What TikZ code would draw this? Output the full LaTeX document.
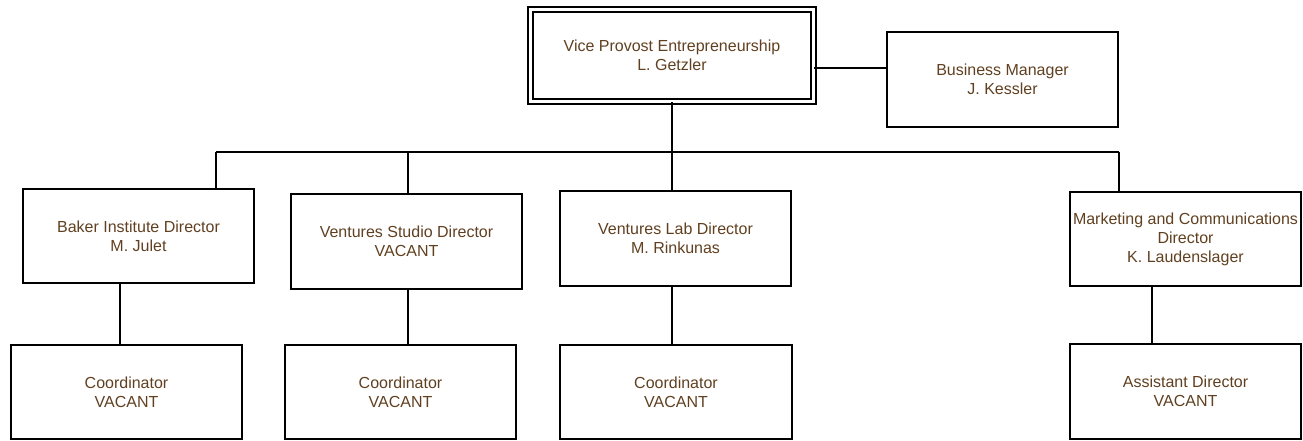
\documentclass[tikz,border=0pt]{standalone}
\usepackage{fontspec}
\setmainfont{Liberation Sans}
\usepackage{tikz}
\usetikzlibrary{calc}
\definecolor{nametext}{RGB}{96,64,32}
\tikzset{
  post/.style={draw, line width=1.4pt, minimum width=173.5pt, minimum height=71pt,
    align=center, text=nametext, font=\fontsize{12pt}{14.2pt}\selectfont, inner sep=0pt},
  chief/.style={post, double, line width=1.1pt, double distance=2.6pt,
    minimum width=212pt, minimum height=69pt},
  link/.style={line width=1.4pt}
}

\begin{document}
\begin{tikzpicture}[x=0.75pt, y=-0.75pt]
                \useasboundingbox (0,0) rectangle (1303,441);

                \node[chief] (vp) at (672,55.5) {Vice Provost Entrepreneurship\\L. Getzler};
                \node[post] (bm) at (1002.5,79.5) {Business Manager\\J. Kessler};

                \node[post] (baker) at (138.5,236) {Baker Institute Director\\M. Julet};
                \node[post] (studio) at (406.5,241.5) {Ventures Studio Director\\VACANT};
                \node[post] (lab) at (675.5,238.5) {Ventures Lab Director\\M. Rinkunas};
                \node[post] (mkt) at (1185.5,239) {Marketing and Communications\\Director\\K. Laudenslager};

                \node[post] (coord1) at (126.5,392) {Coordinator\\VACANT};
                \node[post] (coord2) at (400.5,392) {Coordinator\\VACANT};
                \node[post] (coord3) at (676,392) {Coordinator\\VACANT};
                \node[post] (asst) at (1185.5,391.5) {Assistant Director\\VACANT};

                \coordinate (staff) at (0,68);
                \coordinate (busL) at (216,152);
                \coordinate (busR) at (1119,152);
                \coordinate (dropA) at (120,0);
                \coordinate (dropB) at (408,0);
                \coordinate (dropC) at (1152,0);

                \draw[link] (vp.east |- staff) -- (bm.west |- staff);
                \draw[link] (vp.south) -- (vp.south |- busL);
                \draw[link] (busL) -- (busR);
                \draw[link] (busL) -- (busL |- baker.north);
                \draw[link] (dropB |- busL) -- (dropB |- studio.north);
                \draw[link] (vp.south |- busL) -- (vp.south |- lab.north);
                \draw[link] (busR) -- (busR |- mkt.north);

                \draw[link] (dropA |- baker.south) -- (dropA |- coord1.north);
                \draw[link] (dropB |- studio.south) -- (dropB |- coord2.north);
                \draw[link] (vp.south |- lab.south) -- (vp.south |- coord3.north);
                \draw[link] (dropC |- mkt.south) -- (dropC |- asst.north);
            \end{tikzpicture}
\end{document}
